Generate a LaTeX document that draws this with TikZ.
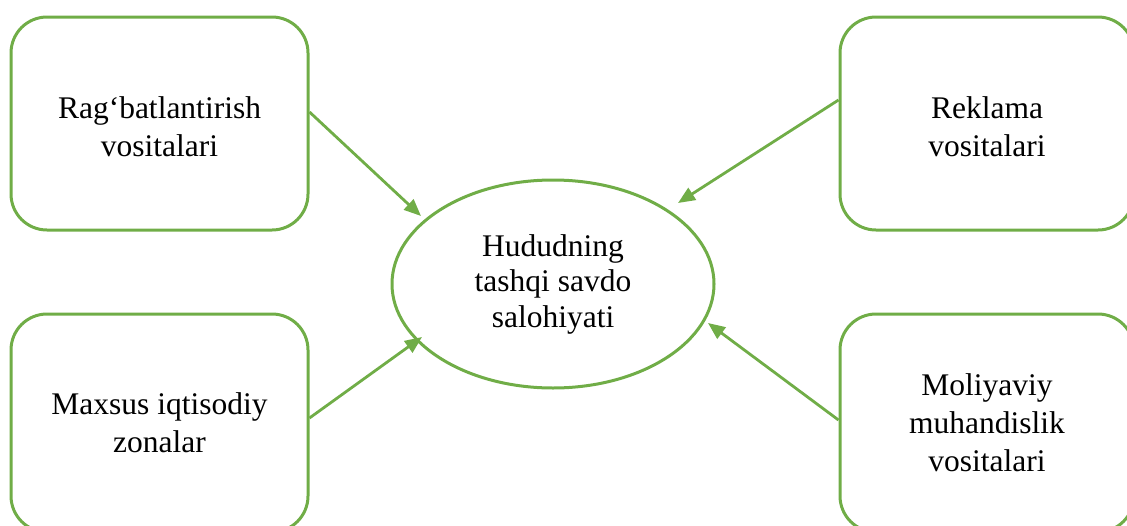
\documentclass[tikz,border=0pt]{standalone}
\usepackage{fontspec}
\setmainfont{Liberation Serif}
\usetikzlibrary{arrows.meta,calc,shapes.geometric}
\definecolor{lgreen}{HTML}{70AD47}
\newcommand{\lowr}{\rule{0pt}{29pt}}
\tikzset{
  box/.style={draw=lgreen, line width=3pt, rounded corners=36pt, minimum width=297pt, minimum height=213pt, align=center, inner sep=0pt},
  ell/.style={draw=lgreen, line width=3pt, ellipse, minimum width=322pt, minimum height=208pt, align=center, inner sep=0pt},
  conn/.style={draw=lgreen, line width=2.8pt, -{Triangle[length=17pt,width=14pt]}},
  txt/.style={font=\fontsize{31.5pt}{38pt}\selectfont},
  etxt/.style={font=\fontsize{31.5pt}{35.5pt}\selectfont}
}
\begin{document}
\begin{tikzpicture}[x=1pt,y=-1pt]
\useasboundingbox (0,0) rectangle (1127,525);
\clip (0,0) rectangle (1127,525);
\node[box, txt] (tl) at (159.5,123.5) {\lowr Rag‘batlantirish\\vositalari};
\node[box, txt, minimum width=294pt] (tr) at (987,123.5) {\lowr Reklama\\vositalari};
\node[box, txt, minimum height=218pt] (bl) at (159.5,423) {Maxsus iqtisodiy\\zonalar};
\node[box, txt, minimum width=294pt, minimum height=218pt] (br) at (987,423) {Moliyaviy\\muhandislik\\vositalari};
\node[ell, etxt] (e) at (553,284) {Hududning\\tashqi savdo\\salohiyati};
\draw[conn] ($(tl.east)+(0,-11.5)$) -- ($(e.center)+(-132,-68)$);
\draw[conn] ($(tr.west)+(0,-23.5)$) -- ($(e.center)+(125,-81)$);
\draw[conn] ($(bl.east)+(0,-5)$) -- ($(e.center)+(-131,53)$);
\draw[conn] ($(br.west)+(0,-3)$) -- ($(e.center)+(155,39)$);
\end{tikzpicture}
\end{document}
